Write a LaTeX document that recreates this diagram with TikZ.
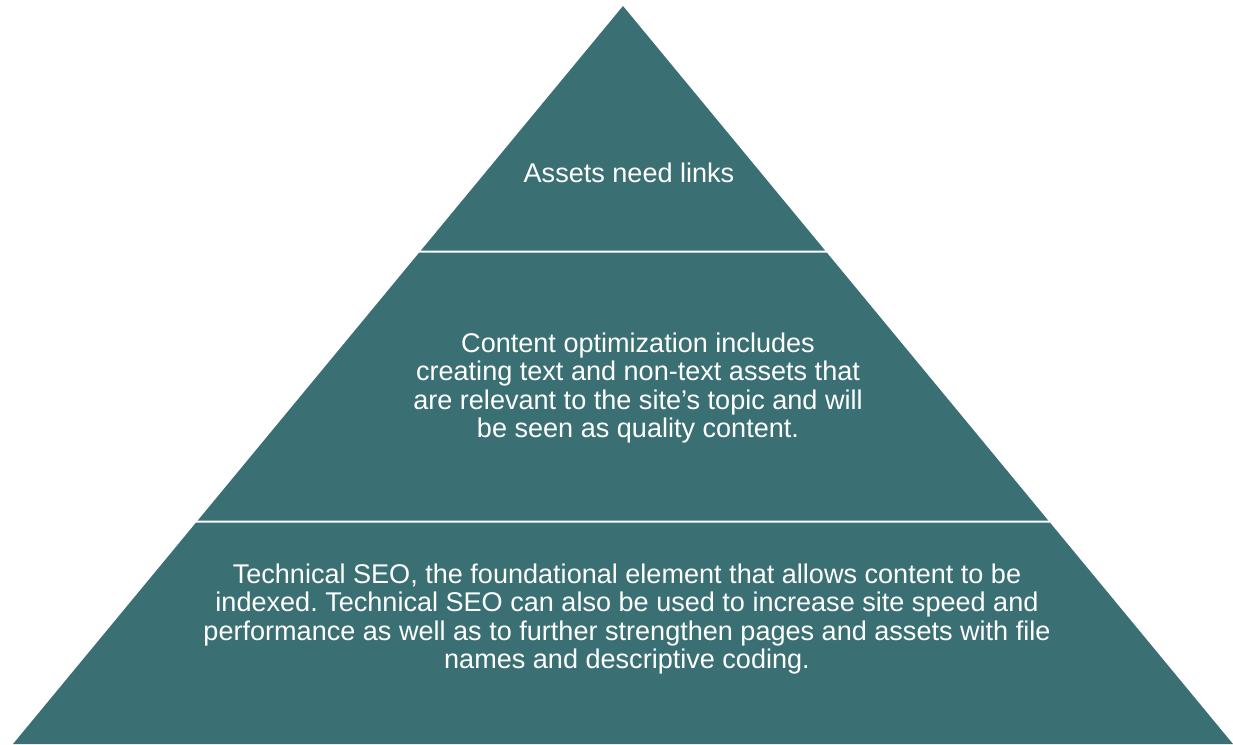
\documentclass[tikz,border=0pt]{standalone}
\usepackage{fontspec}
\setmainfont{Liberation Sans}
\usetikzlibrary{calc}
\frenchspacing

\definecolor{layerteal}{RGB}{58,111,115}

\begin{document}
\begin{tikzpicture}[
    x=0.75pt, y=-0.75pt,
    layer/.style={fill=layerteal, draw=none},
    lbl/.style={text=white, align=center, inner sep=0pt,
                font=\fontsize{20.3}{21.2}\selectfont},
  ]
  \useasboundingbox (0,0) rectangle (1233,744);

  % --- corners of the pyramid ---
  \coordinate (apex) at (623,6);
  \coordinate (bl) at (13,744);
  \coordinate (br) at (1233,744);

  % --- top layer ---
  \fill[layer] (apex) -- ($(apex)!244.5/738!(bl)$) -- ($(apex)!244.5/738!(br)$) -- cycle;

  % --- middle layer ---
  \fill[layer] ($(apex)!246.7/738!(bl)$) -- ($(apex)!514.7/738!(bl)$)
    -- ($(apex)!514.7/738!(br)$) -- ($(apex)!246.7/738!(br)$) -- cycle;

  % --- bottom layer ---
  \fill[layer] ($(apex)!516.7/738!(bl)$) -- (bl) -- (br)
    -- ($(apex)!516.7/738!(br)$) -- cycle;

  % --- labels ---
  \node[lbl] (top) at (629,173) {Assets need links};
  \node[lbl] (mid) at (638,388)
    {Content optimization includes\\
     creating text and non-text assets that\\
     are relevant to the site’s topic and will\\
     be seen as quality content.};
  \node[lbl] (base) at (627,619)
    {Technical SEO, the foundational element that allows content to be\\
     indexed. Technical SEO can also be used to increase site speed and\\
     performance as well as to further strengthen pages and assets with file\\
     names and descriptive coding.};
\end{tikzpicture}
\end{document}
